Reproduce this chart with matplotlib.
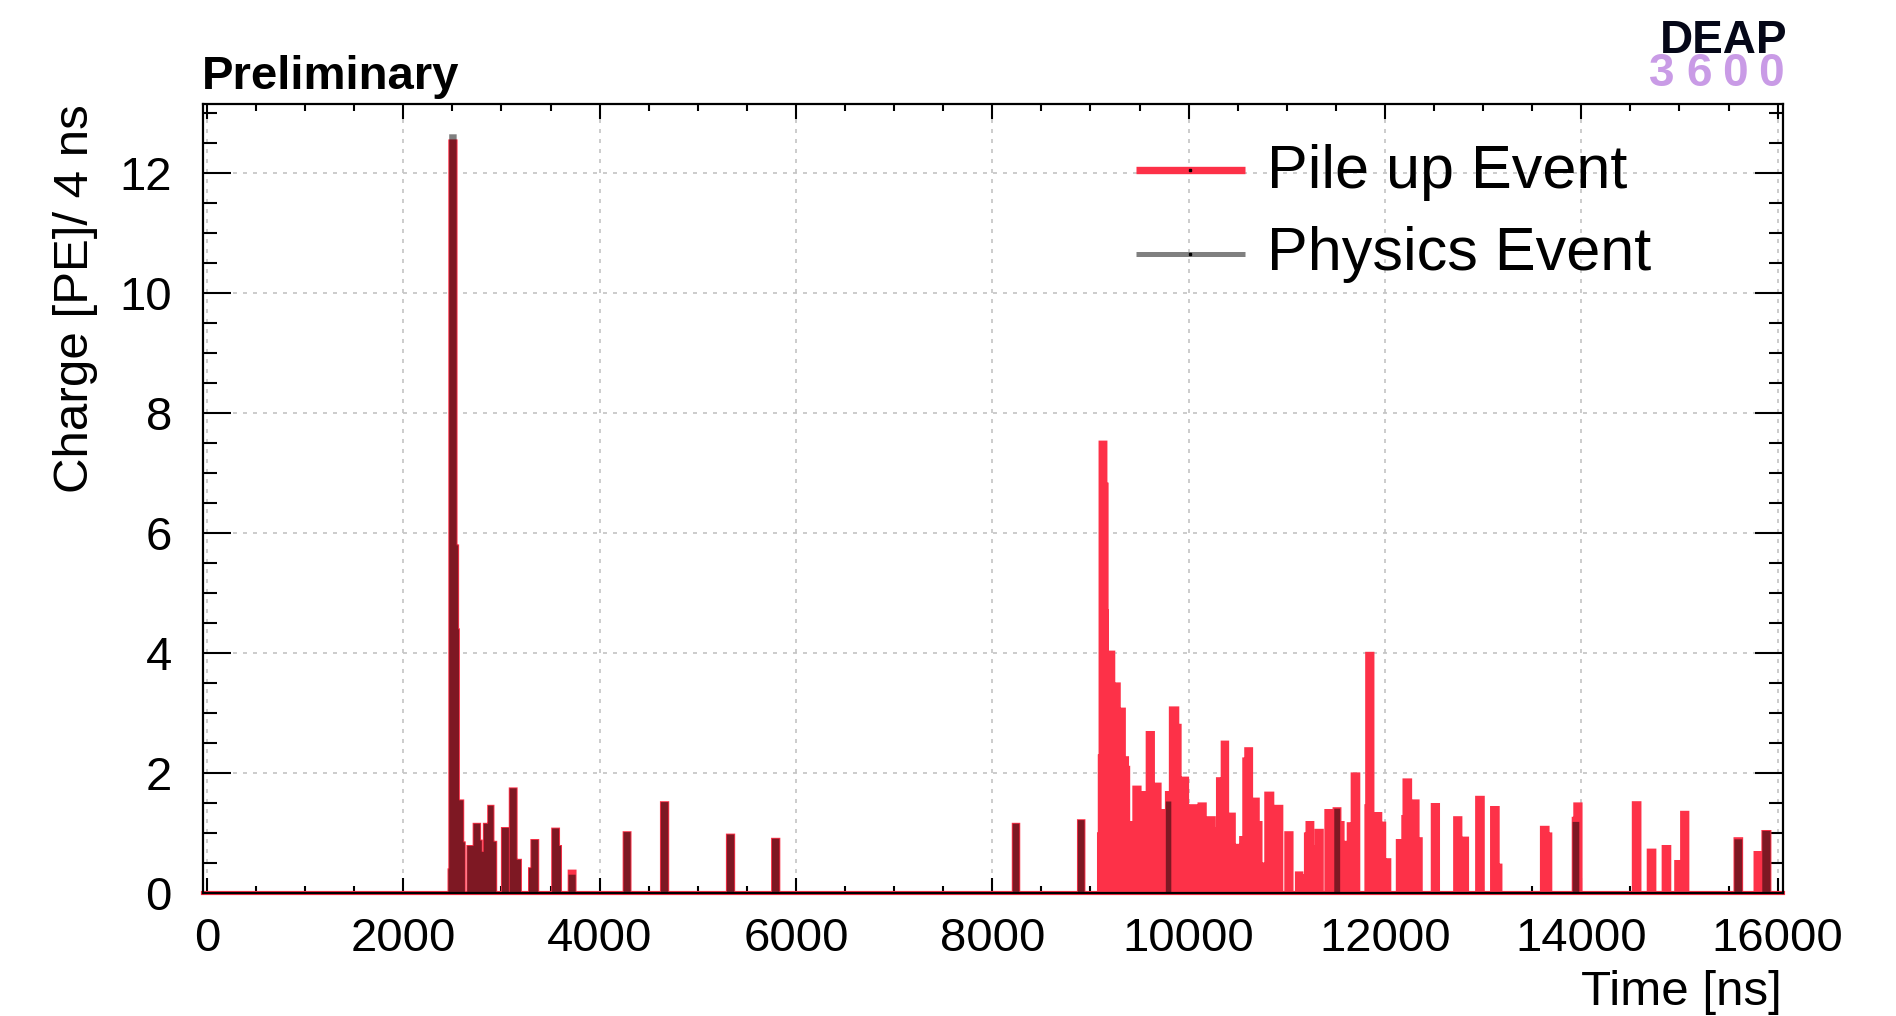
import numpy as np
import matplotlib
matplotlib.use("Agg")
import matplotlib.pyplot as plt
from matplotlib.lines import Line2D

plt.rcParams['font.family'] = ['Liberation Sans', 'DejaVu Sans']

# ---------------- data (time segments in ns, charge in PE) ----------------
pileup_start = [2460, 2468, 2544, 2560, 2568, 2612, 2652, 2716, 2784, 2800, 2820, 2864, 2920,
                3004, 3084, 3156, 3280, 3304, 3516, 3588, 3684, 4244, 4624, 5296, 5756,
                8208, 8872,
                9076, 9084, 9092, 9164, 9176, 9180, 9244, 9300, 9352, 9384, 9396, 9436, 9512,
                9572, 9648, 9716, 9768, 9808, 9896, 9920, 9996, 10100, 10176, 10268, 10288,
                10336, 10404, 10472, 10524, 10556, 10576, 10648, 10716, 10744, 10780, 10864,
                10880, 10984, 11092, 11160, 11184, 11200, 11272, 11292, 11392, 11476, 11548,
                11580, 11620, 11660, 11800, 11808, 11884, 11964, 12004, 12120, 12176, 12188,
                12268, 12344, 12476, 12704, 12780, 12928, 13080, 13160, 13588, 13668, 13912,
                13928, 14524, 14676, 14828, 14956, 15016, 15560, 15764, 15844]
pileup_stop = [2468, 2544, 2560, 2568, 2612, 2628, 2716, 2784, 2800, 2820, 2864, 2920, 2948,
               3076, 3156, 3200, 3304, 3376, 3588, 3608, 3756, 4316, 4700, 5372, 5832,
               8276, 8940,
               9084, 9092, 9164, 9176, 9180, 9244, 9300, 9352, 9384, 9396, 9436, 9512, 9572,
               9648, 9716, 9768, 9808, 9896, 9920, 9996, 10100, 10176, 10268, 10288, 10336,
               10404, 10472, 10524, 10556, 10576, 10648, 10716, 10744, 10780, 10864, 10880,
               10956, 11060, 11160, 11180, 11200, 11272, 11292, 11368, 11476, 11548, 11580,
               11620, 11660, 11740, 11808, 11884, 11964, 12004, 12056, 12176, 12188, 12268,
               12344, 12376, 12552, 12780, 12848, 13008, 13160, 13188, 13668, 13696, 13928,
               14004, 14604, 14756, 14908, 15016, 15092, 15640, 15844, 15928]
pileup_charge = [0.40, 12.55, 5.8, 4.4, 1.55, 0.85, 0.79, 1.16, 0.88, 0.69, 1.16, 1.46, 0.86,
                 1.09, 1.75, 0.56, 0.42, 0.89, 1.08, 0.79, 0.38, 1.02, 1.52, 0.98, 0.91,
                 1.16, 1.22,
                 1.0, 2.3, 7.53, 6.83, 4.72, 4.03, 3.5, 3.08, 2.27, 2.11, 1.19, 1.78, 1.69,
                 2.69, 1.83, 1.39, 1.69, 3.1, 2.81, 1.93, 1.47, 1.5, 1.27, 1.08, 1.92,
                 2.53, 1.33, 0.81, 0.94, 2.25, 2.42, 1.58, 1.19, 0.5, 1.68, 0.94,
                 1.46, 1.02, 0.35, 0.3, 1.0, 1.19, 0.78, 1.06, 1.39, 1.42, 1.19,
                 0.86, 1.17, 2.0, 1.47, 4.01, 1.34, 1.18, 0.57, 0.89, 1.29, 1.9,
                 1.55, 0.92, 1.49, 1.27, 0.93, 1.61, 1.44, 0.48, 1.11, 1.0, 1.26,
                 1.5, 1.52, 0.73, 0.79, 0.54, 1.36, 0.92, 0.69, 1.04]

physics_start = [2460, 2468, 2544, 2560, 2568, 2612, 2652, 2716, 2784, 2800, 2820, 2864, 2920,
                 3004, 3084, 3156, 3280, 3304, 3516, 3588, 3684, 4244, 4624, 5296, 5756,
                 8208, 8872, 9768, 11484, 13912, 15560, 15844]
physics_stop = [2468, 2544, 2560, 2568, 2612, 2628, 2716, 2784, 2800, 2820, 2864, 2920, 2948,
                3076, 3156, 3200, 3304, 3376, 3588, 3608, 3756, 4316, 4700, 5372, 5832,
                8276, 8940, 9824, 11544, 13980, 15640, 15928]
physics_charge = [0.40, 12.65, 5.8, 4.4, 1.55, 0.85, 0.79, 1.16, 0.88, 0.69, 1.16, 1.46, 0.86,
                  1.09, 1.75, 0.56, 0.42, 0.89, 1.08, 0.79, 0.31, 1.02, 1.52, 0.98, 0.91,
                  1.16, 1.22, 1.53, 1.41, 1.19, 0.90, 1.04]

x_ticks = [0, 2000, 4000, 6000, 8000, 10000, 12000, 14000, 16000]
y_ticks = [0, 2, 4, 6, 8, 10, 12]
labels = ["Pile up Event", "Physics Event"]

# ---------------- histogramming (4 ns bins) ----------------
BIN = 4
edges = np.arange(-44, 16052, BIN)
centers = edges[:-1] + BIN / 2


def to_hist(starts, stops, vals):
    h = np.zeros(len(centers))
    for s, e, v in zip(starts, stops, vals):
        m = (centers >= s) & (centers < e)
        h[m] = np.maximum(h[m], v)
    return h


h_pile = to_hist(pileup_start, pileup_stop, pileup_charge)
h_phys = to_hist(physics_start, physics_stop, physics_charge)

# ---------------- figure ----------------
W, H = 1896, 1016
fig = plt.figure(figsize=(W / 100, H / 100), dpi=100)


def fx(px):
    return px / W


def fy(py):
    return 1 - py / H


ax_l, ax_r, ax_t, ax_b = 202.5, 1782.5, 104.3, 893.3
ax = fig.add_axes([fx(ax_l), fy(ax_b), (ax_r - ax_l) / W, (ax_b - ax_t) / H])

RED = '#FD3148'
ax.stairs(h_pile, edges, fill=True, facecolor=RED, edgecolor=RED, linewidth=1.3,
          zorder=2, clip_on=False)
ax.stairs(h_phys, edges, fill=True, facecolor=(0, 0, 0, 0.5), edgecolor='none',
          linewidth=0, zorder=2.5)
ax.axhline(0, color=RED, lw=3.0, zorder=1.8, clip_on=False)

ax.set_xlim(-45, 16050)
ax.set_ylim(0, 13.15)
ax.set_xticks(x_ticks)
ax.set_xticklabels([str(v) for v in x_ticks])
ax.set_yticks(y_ticks)
ax.set_yticklabels([str(v) for v in y_ticks])
ax.set_xticks(np.arange(0, 16001, 500), minor=True)
ax.set_yticks(np.arange(0, 13.1, 0.5), minor=True)

ax.grid(True, which='major', color='#C4C4C4', linestyle=(0, (2.4, 3.6)), linewidth=1.2,
        zorder=0.5)
ax.set_axisbelow(True)

ax.tick_params(axis='both', which='both', direction='in', top=True, right=True,
               width=1.5, color='black')
ax.tick_params(axis='x', which='major', length=10.5, pad=17, labelsize=34)
ax.tick_params(axis='x', which='minor', length=5)
ax.tick_params(axis='y', which='major', length=20.5, pad=22, labelsize=34)
ax.tick_params(axis='y', which='minor', length=10)
for sp in ax.spines.values():
    sp.set_linewidth(1.6)
    sp.set_zorder(3)

# axis titles
fig.text(fx(1782), fy(1005), 'Time [ns]', ha='right', va='baseline', fontsize=35.5)
fig.text(fx(88), fy(104), 'Charge [PE]/ 4 ns', rotation=90, rotation_mode='anchor',
         ha='right', va='baseline', fontsize=35.5)

# Preliminary
fig.text(fx(202), fy(89.3), 'Preliminary', ha='left', va='baseline', fontsize=34,
         fontweight='bold')

# DEAP 3600 logo text
fig.text(fx(1724), fy(53.3), 'DEAP', ha='center', va='baseline', fontsize=33,
         fontweight='bold', color='#050718')
for ch, cx in zip("3600", [1661.7, 1698.7, 1735.3, 1771.0]):
    fig.text(fx(cx), fy(86), ch, ha='center', va='baseline', fontsize=33,
             fontweight='bold', color='#C99BE6')

# legend (manual, ROOT-like, no frame)
leg_rows = [(170.3, RED, 5.3, 188.3), (253.5, '#808080', 3.6, 270.0)]
for (ly, col, lw, base), lab in zip(leg_rows, labels):
    fig.add_artist(Line2D([fx(1135.7), fx(1245.0)], [fy(ly), fy(ly)], color=col, lw=lw,
                          solid_capstyle='butt'))
    fig.add_artist(Line2D([fx(1190.3)], [fy(ly)], marker='s', markersize=2,
                          color='black', lw=0))
    fig.text(fx(1267), fy(base), lab, ha='left', va='baseline', fontsize=44)

fig.savefig('out.png', dpi=100)
